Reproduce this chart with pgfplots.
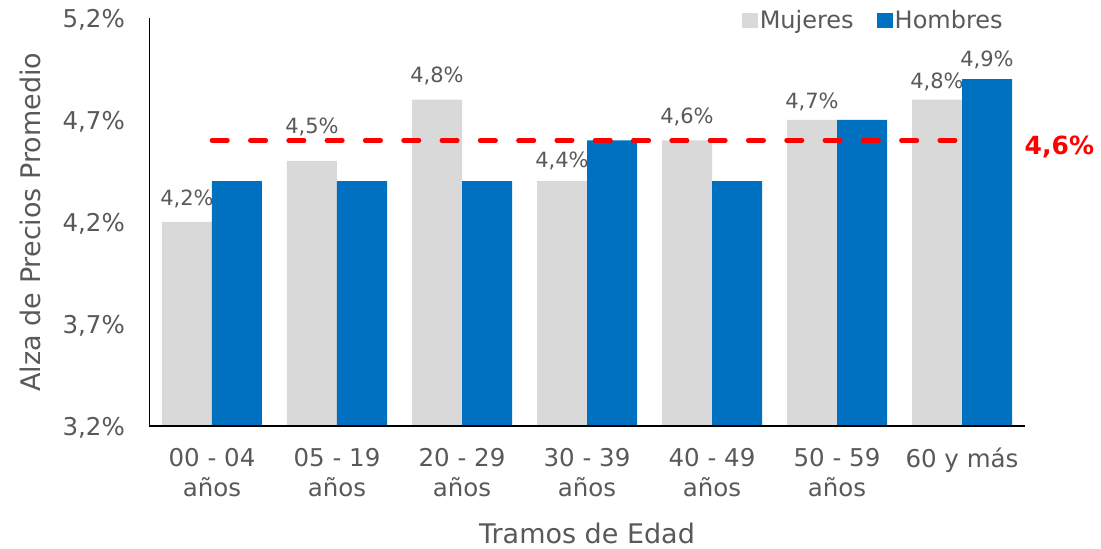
\documentclass[border=0pt]{standalone}
\usepackage{fontspec}
\setmainfont{DejaVu Sans}
\usepackage{pgfplots}
\pgfplotsset{compat=1.18}
\usepackage{pgfplotstable}
\definecolor{txtgray}{HTML}{595959}
\definecolor{mgray}{HTML}{D9D9D9}
\definecolor{hblue}{HTML}{0070C0}
\definecolor{lred}{HTML}{FF0000}

\pgfplotstableread{
x y lab dy
0 4.2 4,2\% 16
1 4.5 4,5\% 27
2 4.8 4,8\% 17
3 4.4 4,4\% 14
4 4.6 4,6\% 17
5 4.7 4,7\% 11
6 4.8 4,8\% 11
}\mujeres

\pgfplotstableread{
x y lab dy
0 4.4 {} 13
1 4.4 {} 13
2 4.4 {} 13
3 4.6 {} 13
4 4.4 {} 13
5 4.7 {} 13
6 4.9 4,9\% 13
}\hombres

\begin{document}
\begin{tikzpicture}
\begin{axis}[
  scale only axis, width=875pt, height=408pt,
  xmin=-0.5, xmax=6.5, ymin=3.2, ymax=5.2,
  axis x line*=bottom, axis y line*=left,
  axis line style={-, line width=1.5pt, black},
  major tick length=0pt,
  clip=false, axis on top,
  xtick={0,1,2,3,4,5,6},
  xticklabels={{00 - 04\\años},{05 - 19\\años},{20 - 29\\años},{30 - 39\\años},{40 - 49\\años},{50 - 59\\años},{60 y más}},
  xticklabel style={align=center, font=\fontsize{24.5}{30}\selectfont, text=txtgray, inner sep=0pt, anchor=north, yshift=-22pt},
  ytick={3.2,3.7,4.2,4.7,5.2},
  yticklabels={{3,2\%},{3,7\%},{4,2\%},{4,7\%},{5,2\%}},
  yticklabel style={font=\fontsize{24.5}{28}\selectfont, text=txtgray, inner sep=0pt, anchor=base east, xshift=-24.5pt, yshift=-9.5pt},
  xlabel={Tramos de Edad},
  ylabel={Alza de Precios Promedio},
  xlabel style={at={(axis description cs:0.5,-0.2623)}, anchor=center, font=\fontsize{27}{30}\selectfont, text=txtgray},
  ylabel style={at={(axis description cs:-0.1366,0.5)}, anchor=center, font=\fontsize{27}{30}\selectfont, text=txtgray},
  legend columns=2,
  legend style={draw=none, fill=none, at={(axis description cs:0.981,0.995)}, anchor=east,
    font=\fontsize{24}{28}\selectfont, text=txtgray,
    /tikz/every even column/.append style={column sep=21pt},
    nodes={inner sep=2pt}},
  legend image code/.code={\fill[#1] (0pt,-7.5pt) rectangle (16pt,7.5pt);},
]
\addplot[ybar, bar width=50pt, bar shift=-25pt, fill=mgray, draw=none,
  point meta=explicit symbolic, nodes near coords,
  visualization depends on={\thisrow{dy} \as \dy},
  nodes near coords style={anchor=base, xshift=-25pt, yshift=\dy pt, font=\fontsize{21}{24}\selectfont, text=txtgray}]
  table[x=x, y=y, meta=lab] {\mujeres};
\addlegendentry{Mujeres}
\addplot[ybar, bar width=50pt, bar shift=25pt, fill=hblue, draw=none,
  point meta=explicit symbolic, nodes near coords,
  visualization depends on={\thisrow{dy} \as \dy},
  nodes near coords style={anchor=base, xshift=25pt, yshift=\dy pt, font=\fontsize{21}{24}\selectfont, text=txtgray}]
  table[x=x, y=y, meta=lab] {\hombres};
\addlegendentry{Hombres}
\addplot[lred, line width=4.5pt, line cap=round, dash pattern=on 15.5pt off 22.8pt, forget plot]
  coordinates {(0,4.6) (6,4.6)};
\node[anchor=west, inner sep=0pt, text=lred, font=\bfseries\fontsize{25}{28}\selectfont] at (axis cs:6.5,4.57) {4,6\%};
\end{axis}
\pgfresetboundingbox
\path[use as bounding box] (-149.5pt,-123pt) rectangle (951.5pt,426pt);
\end{tikzpicture}
\end{document}
